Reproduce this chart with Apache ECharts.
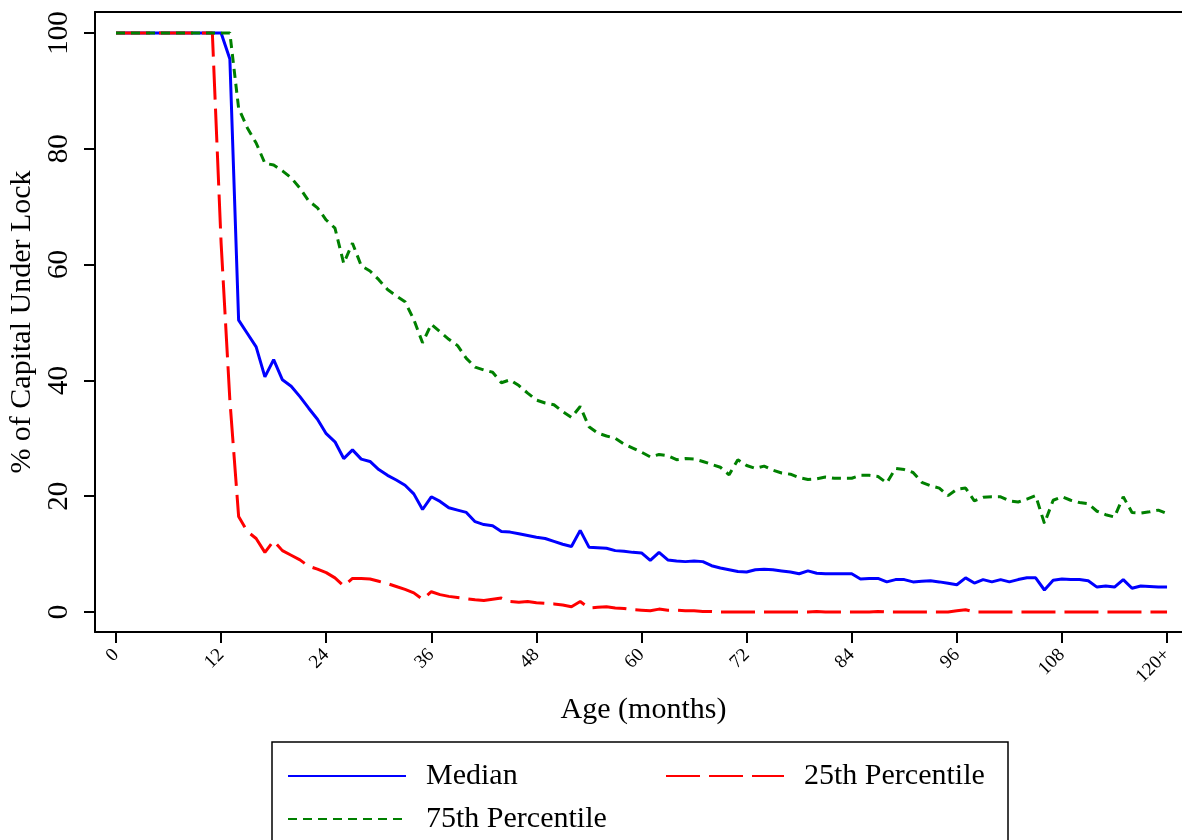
<!DOCTYPE html>
<html>
<head>
<meta charset="utf-8">
<title>Capital Under Lock</title>
<script src="https://cdn.jsdelivr.net/npm/echarts@6/dist/echarts.min.js"></script>
<style>
  html, body { margin: 0; padding: 0; background: #fff; }
  #main { width: 1182px; height: 840px; }
</style>
</head>
<body>
<div id="main"></div>
<script>
// x tick labels (months)
var xTicks = [0, 12, 24, 36, 48, 60, 72, 84, 96, 108, 120];
var yTicks = [0, 20, 40, 60, 80, 100];

// values by month 0..120
var median = [
    100, 100, 100, 100, 100, 100, 100, 100, 100, 100, 100, 100, 100,
    95.5, 50.4, 48.1, 45.8, 40.6, 43.6, 40.1, 39.0, 37.2,
    35.2, 33.3, 30.8, 29.4, 26.5, 28.0, 26.4, 26.0, 24.6,
    23.6, 22.8, 21.9, 20.4, 17.7, 19.9, 19.1, 18.0, 17.6, 17.2,
    15.6, 15.1, 14.9, 13.9, 13.8, 13.5, 13.2, 12.9, 12.7, 12.2,
    11.7, 11.3, 14.1, 11.2, 11.1, 11.0, 10.6, 10.5, 10.3, 10.2,
    8.9, 10.3, 9.0, 8.8, 8.7, 8.8, 8.7, 8.0, 7.6, 7.3,
    7.0, 6.9, 7.3, 7.4, 7.3, 7.1, 6.9, 6.6, 7.1, 6.7,
    6.6, 6.6, 6.6, 6.6, 5.7, 5.8, 5.8, 5.2, 5.6, 5.6,
    5.2, 5.3, 5.4, 5.2, 4.95, 4.7, 5.9, 5.0, 5.6, 5.2,
    5.6, 5.2, 5.6, 5.9, 5.9, 3.8, 5.5, 5.7, 5.6, 5.6,
    5.4, 4.3, 4.5, 4.3, 5.6, 4.1, 4.5, 4.4, 4.3, 4.3
];

var p25 = [
    100, 100, 100, 100, 100, 100, 100, 100, 100, 100, 100, 100,
    63.7, 36.6, 16.5, 13.9, 12.7, 10.3, 12.3, 10.6, 9.8,
    9.0, 7.9, 7.4, 6.8, 5.9, 4.5, 5.8, 5.8, 5.7, 5.3,
    4.9, 4.4, 3.9, 3.3, 2.2, 3.5, 3.0, 2.7, 2.5, 2.3,
    2.1, 2.0, 2.2, 2.4, 1.8, 1.7, 1.8, 1.6, 1.5, 1.4,
    1.2, 0.9, 1.8, 0.7, 0.8, 0.9, 0.7, 0.6, 0.4, 0.3,
    0.2, 0.5, 0.3, 0.3, 0.2, 0.2, 0.1, 0.1, 0, 0,
    0, 0, 0, 0, 0, 0, 0, 0, 0, 0.1,
    0, 0, 0, 0, 0, 0, 0.1, 0, 0, 0,
    0, 0, 0, 0, 0, 0.2, 0.4, 0, 0, 0,
    0, 0, 0, 0, 0, 0, 0, 0, 0, 0,
    0, 0, 0, 0, 0, 0, 0, 0, 0, 0
];

var p75 = [
    100, 100, 100, 100, 100, 100, 100, 100, 100, 100, 100, 100, 100, 100,
    87.0, 83.6, 81.0, 77.5, 77.2, 76.2, 75.0,
    73.2, 71.0, 69.8, 67.7, 66.3, 60.2, 63.7, 59.8, 58.9, 57.4,
    55.7, 54.6, 53.6, 50.5, 46.5, 49.7, 48.4, 47.1, 46.0, 43.8,
    42.3, 41.8, 41.4, 39.6, 40.1, 39.1, 37.8, 36.6, 36.1, 35.8,
    34.6, 33.6, 35.5, 32.0, 30.9, 30.4, 30.0, 29.0, 28.3, 27.6,
    26.8, 27.2, 27.0, 26.3, 26.5, 26.4, 26.0, 25.5, 25.0, 23.7,
    26.3, 25.3, 24.8, 25.2, 24.5, 24.0, 23.8, 23.2, 22.9, 23.0,
    23.3, 23.1, 23.1, 23.1, 23.6, 23.6, 23.4, 22.3, 24.8, 24.6,
    24.1, 22.4, 21.8, 21.4, 20.1, 21.2, 21.4, 19.2, 19.8, 19.9,
    19.9, 19.2, 19.0, 19.5, 20.1, 15.3, 19.3, 19.9, 19.3, 18.9,
    18.7, 17.4, 16.8, 16.4, 19.9, 17.2, 17.1, 17.3, 17.6, 17.0
];

var serif = '"Liberation Serif", "DejaVu Serif", serif';

function toPoints(arr) {
    return arr.map(function (v, i) { return [i, v]; });
}

var chart = echarts.init(document.getElementById('main'), null, { renderer: 'canvas' });

function legendAt(name, left, top) {
    return {
        data: [name],
        left: left,
        top: top,
        itemWidth: 118,
        itemHeight: 14,
        itemGap: 0,
        padding: 0,
        itemStyle: { opacity: 0, borderWidth: 0 },
        textStyle: {
            fontFamily: serif,
            fontSize: 30,
            color: '#000',
            padding: [0, 0, 0, 15]
        }
    };
}

var option = {
    animation: false,
    backgroundColor: '#fff',
    grid: {
        left: 95, top: 12, right: -10, bottom: 208,
        containLabel: false,
        outerBoundsMode: 'none'
    },
    xAxis: [
        {
            type: 'value',
            min: -2.398,
            max: 122.85,
            name: 'Age (months)',
            nameLocation: 'middle',
            nameGap: 63,
            nameTextStyle: { fontFamily: serif, fontSize: 30, color: '#000' },
            axisLine: { show: true, onZero: false, lineStyle: { color: '#000', width: 2 } },
            axisTick: { show: true, length: 11, lineStyle: { color: '#000', width: 2 }, customValues: xTicks },
            axisLabel: {
                customValues: xTicks,
                rotate: 45,
                margin: 20,
                fontFamily: serif,
                fontSize: 19,
                color: '#000',
                formatter: function (v) { return v === 120 ? '120+' : String(v); }
            },
            splitLine: { show: false }
        },
        {
            type: 'value',
            position: 'top',
            min: -2.398,
            max: 122.85,
            axisLine: { show: true, onZero: false, lineStyle: { color: '#000', width: 2 } },
            axisTick: { show: false },
            axisLabel: { show: false },
            splitLine: { show: false }
        }
    ],
    yAxis: {
        type: 'value',
        min: -3.454,
        max: 103.627,
        name: '% of Capital Under Lock',
        nameLocation: 'middle',
        nameGap: 58,
        nameTextStyle: { fontFamily: serif, fontSize: 30, color: '#000' },
        axisLine: { show: true, onZero: false, lineStyle: { color: '#000', width: 2 } },
        axisTick: { show: true, length: 11, lineStyle: { color: '#000', width: 2 }, customValues: yTicks },
        axisLabel: {
            customValues: yTicks,
            rotate: 90,
            margin: 21,
            fontFamily: serif,
            fontSize: 29,
            color: '#000'
        },
        splitLine: { show: false }
    },
    legend: [
        legendAt('Median', 287, 761),
        legendAt('25th Percentile', 665, 761),
        legendAt('75th Percentile', 287, 804)
    ],
    graphic: [
        {
            type: 'rect',
            shape: { x: 272, y: 742, width: 736, height: 140 },
            style: { fill: 'none', stroke: '#000', lineWidth: 1.5 },
            silent: true
        }
    ],
    series: [
        {
            name: 'Median',
            type: 'line',
            symbol: 'none',
            data: toPoints(median),
            lineStyle: { color: '#0000ff', width: 3, type: 'solid' },
            itemStyle: { color: '#0000ff' }
        },
        {
            name: '25th Percentile',
            type: 'line',
            symbol: 'none',
            data: toPoints(p25),
            lineStyle: { color: '#ff0000', width: 3, type: [34, 9] },
            itemStyle: { color: '#ff0000' }
        },
        {
            name: '75th Percentile',
            type: 'line',
            symbol: 'none',
            data: toPoints(p75),
            lineStyle: { color: '#008000', width: 3, type: [9, 6] },
            itemStyle: { color: '#008000' }
        }
    ]
};

chart.setOption(option);
</script>
</body>
</html>
